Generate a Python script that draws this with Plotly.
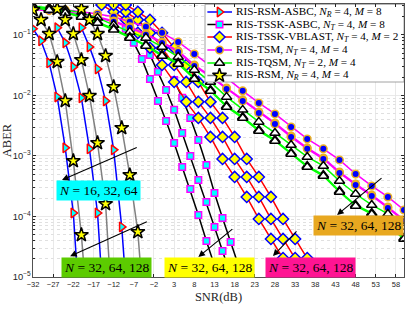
import math
import plotly.graph_objects as go

# ---------------- data ----------------
# RIS-RSM-ASBC (N = 16, 32, 64)
snr_rsm_asbc_1 = [-32, -30, -28, -26, -24, -22, -20]
aber_rsm_asbc_1 = [0.126, 0.0796, 0.0345, 9.45e-3, 1.36e-3, 1.14e-4, 1e-6]
snr_rsm_asbc_2 = [-26, -24, -22, -20, -18, -16, -14]
aber_rsm_asbc_2 = [0.131, 0.0738, 0.0296, 9.11e-3, 1.31e-3, 1.14e-4, 1e-6]
snr_rsm_asbc_3 = [-20, -18, -16, -14, -12, -10, -8]
aber_rsm_asbc_3 = [0.131, 0.0633, 0.0274, 8.12e-3, 1.26e-3, 6.72e-5, 1e-6]

# RIS-RSM (N = 32, 64, 128)
snr_rsm_1 = [-32, -30, -28, -26, -24, -22, -20, -18]
aber_rsm_1 = [0.259, 0.177, 0.104, 0.0358, 8.12e-3, 8.27e-4, 4.95e-5, 1e-6]
snr_rsm_2 = [-26, -24, -22, -20, -18, -16, -14, -12]
aber_rsm_2 = [0.269, 0.177, 0.104, 0.0386, 9.83e-3, 1.64e-3, 1.61e-4, 1e-6]
snr_rsm_3 = [-20, -18, -16, -14, -12, -10, -8, -6, -4]
aber_rsm_3 = [0.269, 0.177, 0.104, 0.0450, 0.0138, 2.90e-3, 4.85e-4, 5.55e-5, 1e-6]

# RIS-TSSK-ASBC (N = 32, 64, 128)
snr_tssk_asbc_1 = [-9, -7, -5, -3, -1, 1, 3, 5, 7, 9, 11, 13, 15]
aber_tssk_asbc_1 = [0.126, 0.0738, 0.0401, 0.0187, 8.12e-3, 3.79e-3, 1.64e-3,
                    6.58e-4, 2.85e-4, 1.06e-4, 3.94e-5, 1.58e-5, 6.1e-6]
snr_tssk_asbc_2 = [-3, -1, 1, 3, 5, 7, 9, 11, 13, 15, 17, 19]
aber_tssk_asbc_2 = [0.0467, 0.0245, 0.0123, 5.77e-3, 2.40e-3, 1.0e-3, 4.01e-4,
                    1.74e-4, 6.72e-5, 2.69e-5, 1.08e-5, 4.2e-6]
snr_tssk_asbc_3 = [3, 5, 7, 9, 11, 13, 15, 17, 19, 21]
aber_tssk_asbc_3 = [0.0180, 9.11e-3, 4.25e-3, 1.84e-3, 7.10e-4, 2.45e-4,
                    9.45e-5, 3.79e-5, 1.52e-5, 6.1e-6]

# RIS-TSSK-VBLAST (N = 32, 64, 128)
snr_vblast_1 = [-15, -12, -9, -6, -3, 0, 3, 6, 9, 12, 15, 18, 21, 24, 27, 30, 33, 36]
snr_vblast_2 = [-12, -9, -6, -3, 0, 3, 6, 9, 12, 15, 18, 21, 24, 27, 30, 33, 36, 39]
snr_vblast_3 = [-9, -6, -3, 0, 3, 6, 9, 12, 15, 18, 21, 24, 27, 30, 33, 36, 39, 42]
aber_vblast_1 = [0.313, 0.240, 0.177, 0.108, 0.0610, 0.0319, 0.0167, 7.82e-3, 4.25e-3,
                 2.06e-3, 8.92e-4, 4.50e-4, 2.10e-4, 9.11e-5, 4.25e-5, 2.06e-5, 9.63e-6, 4.5e-6]
aber_vblast_2 = [0.313, 0.240, 0.177, 0.108, 0.0610, 0.0319, 0.0167, 7.82e-3, 4.25e-3,
                 2.06e-3, 8.92e-4, 4.50e-4, 2.10e-4, 9.11e-5, 4.25e-5, 2.06e-5, 9.63e-6, 4.5e-6]
aber_vblast_3 = [0.313, 0.240, 0.177, 0.108, 0.0610, 0.0319, 0.0167, 7.82e-3, 4.25e-3,
                 2.06e-3, 8.92e-4, 4.50e-4, 2.10e-4, 9.11e-5, 4.25e-5, 2.06e-5, 9.63e-6, 4.5e-6]

# RIS-TSM and RIS-TQSM (N = 32, 64, 128)
snr_right = [-32, -28, -24, -20, -16, -12, -8, -4, 0, 4, 8, 12, 16, 20, 24, 28,
             32, 36, 40, 44, 48, 52, 56, 60]
aber_tsm_1 = [0.279, 0.269, 0.259, 0.240, 0.222, 0.199, 0.164, 0.136, 0.108, 0.0766,
              0.0485, 0.0307, 0.0195, 0.0119, 7.52e-3, 4.95e-3, 3.02e-3, 1.91e-3,
              1.31e-3, 8.59e-4, 5.04e-4, 3.19e-4, 2.10e-4, 1.28e-4]
aber_tsm_2 = [0.269, 0.259, 0.240, 0.222, 0.199, 0.170, 0.136, 0.104, 0.0766, 0.0544,
              0.0319, 0.0210, 0.0133, 8.44e-3, 5.34e-3, 3.51e-3, 2.14e-3, 1.36e-3,
              9.27e-4, 5.44e-4, 3.45e-4, 2.27e-4, 1.44e-4, 8.75e-5]
aber_tsm_3 = [0.262, 0.251, 0.232, 0.214, 0.192, 0.164, 0.131, 0.100, 0.0736, 0.0522,
              0.0306, 0.0202, 0.0128, 8.10e-3, 5.13e-3, 3.37e-3, 2.05e-3, 1.31e-3,
              8.9e-4, 5.22e-4, 3.31e-4, 2.18e-4, 1.38e-4, 8.4e-5]
aber_tqsm_1 = [0.301, 0.279, 0.259, 0.231, 0.191, 0.146, 0.112, 0.0892, 0.0633, 0.0433,
               0.0264, 0.0167, 9.45e-3, 5.77e-3, 3.65e-3, 2.40e-3, 1.52e-3, 9.63e-4,
               6.84e-4, 3.86e-4, 2.35e-4, 1.55e-4, 1.10e-4, 6.72e-5]
aber_tqsm_2 = [0.291, 0.269, 0.240, 0.206, 0.164, 0.126, 0.0927, 0.0684, 0.0467, 0.0345,
               0.0195, 0.0123, 6.72e-3, 4.41e-3, 2.69e-3, 1.84e-3, 1.12e-3, 6.84e-4,
               4.85e-4, 2.64e-4, 1.55e-4, 1.14e-4, 7.52e-5, 4.41e-5]
aber_tqsm_3 = [0.280, 0.258, 0.230, 0.198, 0.157, 0.121, 0.089, 0.0657, 0.0448, 0.0331,
               0.0187, 0.0118, 6.45e-3, 4.23e-3, 2.58e-3, 1.77e-3, 1.08e-3, 6.57e-4,
               4.66e-4, 2.53e-4, 1.49e-4, 1.09e-4, 7.2e-5, 4.23e-5]

x_ticks = [-32, -27, -22, -17, -12, -7, -2, 3, 8, 13, 18, 23, 28, 33, 38, 43, 48, 53, 58]

legend_keys = ["rsm_asbc", "tssk_asbc", "vblast", "tsm", "tqsm", "rsm"]
legend_names = {
    "rsm_asbc": "RIS-RSM-ASBC, <i>N<sub>R</sub></i> = 4, <i>M</i> = 8",
    "tssk_asbc": "RIS-TSSK-ASBC, <i>N<sub>T</sub></i> = 4, <i>M</i> = 8",
    "vblast": "RIS-TSSK-VBLAST, <i>N<sub>T</sub></i> = 4, <i>M</i> = 2",
    "tsm": "RIS-TSM, <i>N<sub>T</sub></i> = 4, <i>M</i> = 4",
    "tqsm": "RIS-TQSM, <i>N<sub>T</sub></i> = 2, <i>M</i> = 4",
    "rsm": "RIS-RSM, <i>N<sub>R</sub></i> = 4, <i>M</i> = 4",
}

label_text = ["<i>N</i> = 16, 32, 64", "<i>N</i> = 32, 64, 128"]

# ---------------- styles ----------------
styles = {
    "rsm_asbc": dict(line="#0000FF", symbol="triangle-right", size=8.5, fill="#00FFFF", edge="#FF0000"),
    "tssk_asbc": dict(line="#000000", symbol="square", size=6.5, fill="#00FFFF", edge="#FF00FF"),
    "vblast": dict(line="#FF0000", symbol="diamond", size=8.5, fill="#FFFF00", edge="#0000FF"),
    "tsm": dict(line="#FF00FF", symbol="circle", size=7.5, fill="#0000FF", edge="#EDB120"),
    "tqsm": dict(line="#00FF00", symbol="triangle-up", size=9, fill="#FFFFFF", edge="#000000"),
    "rsm": dict(line="#808080", symbol="star", size=10.5, fill="#FFFF00", edge="#000000"),
}

series = [
    ("rsm_asbc", snr_rsm_asbc_1, aber_rsm_asbc_1),
    ("rsm_asbc", snr_rsm_asbc_2, aber_rsm_asbc_2),
    ("rsm_asbc", snr_rsm_asbc_3, aber_rsm_asbc_3),
    ("tssk_asbc", snr_tssk_asbc_1, aber_tssk_asbc_1),
    ("tssk_asbc", snr_tssk_asbc_2, aber_tssk_asbc_2),
    ("tssk_asbc", snr_tssk_asbc_3, aber_tssk_asbc_3),
    ("vblast", snr_vblast_1, aber_vblast_1),
    ("vblast", snr_vblast_2, aber_vblast_2),
    ("vblast", snr_vblast_3, aber_vblast_3),
    ("tsm", snr_right, aber_tsm_1),
    ("tsm", snr_right, aber_tsm_2),
    ("tsm", snr_right, aber_tsm_3),
    ("tqsm", snr_right, aber_tqsm_1),
    ("tqsm", snr_right, aber_tqsm_2),
    ("tqsm", snr_right, aber_tqsm_3),
    ("rsm", snr_rsm_1, aber_rsm_1),
    ("rsm", snr_rsm_2, aber_rsm_2),
    ("rsm", snr_rsm_3, aber_rsm_3),
]

fig = go.Figure()
for key, xs, ys in series:
    st = styles[key]
    fig.add_trace(go.Scatter(
        x=xs, y=ys, mode="lines+markers", name=key, showlegend=False, hoverinfo="skip",
        line=dict(color=st["line"], width=1.5),
        marker=dict(symbol=st["symbol"], size=st["size"], color=st["fill"],
                    line=dict(color=st["edge"], width=1.5)),
    ))

serif = "Liberation Serif"

# ---------------- custom compact legend (overlay axes in [0,1]) ----------------
LG_X0, LG_X1, LG_Y0, LG_Y1 = 0.4636, 1.0, 0.7143, 0.999
LG_ROWS = [0.9707, 0.9249, 0.8791, 0.8315, 0.7839, 0.7381]
LG_LINE_X = [0.470, 0.5027, 0.5364]
LG_TEXT_X = 0.5430

fig.add_trace(go.Scatter(
    x=[LG_X0, LG_X1, LG_X1, LG_X0, LG_X0], y=[LG_Y0, LG_Y0, LG_Y1, LG_Y1, LG_Y0],
    xaxis="x2", yaxis="y2", mode="lines", fill="toself", fillcolor="#FFFFFF",
    line=dict(color="#8C8C8C", width=0.8), showlegend=False, hoverinfo="skip",
    cliponaxis=False))
for key, ry in zip(legend_keys, LG_ROWS):
    st = styles[key]
    fig.add_trace(go.Scatter(
        x=LG_LINE_X, y=[ry, ry, ry], xaxis="x2", yaxis="y2", mode="lines+markers",
        showlegend=False, hoverinfo="skip",
        line=dict(color=st["line"], width=1.5),
        marker=dict(symbol=st["symbol"], size=st["size"], color=st["fill"],
                    opacity=[0, 1, 0], line=dict(color=st["edge"], width=1.5))))
    fig.add_annotation(x=LG_TEXT_X, y=ry, xref="paper", yref="paper", xanchor="left",
                       yanchor="middle", text=legend_names[key], showarrow=False,
                       font=dict(family=serif, size=11.2, color="#000000"))

# ---------------- label boxes ----------------
boxes = [
    (label_text[0], -15.7, 10 ** (-3.578), "#00FFFF"),
    (label_text[1], -13.8, 10 ** (-4.843), "#5CCB00"),
    (label_text[1], 11.7, 10 ** (-4.851), "#FFFF00"),
    (label_text[1], 36.9, 10 ** (-4.851), "#FF1493"),
    (label_text[1], 48.6, 10 ** (-4.157), "#E8A820"),
]
for txt, bx, by, col in boxes:
    fig.add_annotation(x=bx, y=math.log10(by), xref="x", yref="y", text=txt,
                       showarrow=False, bgcolor=col, borderpad=2,
                       font=dict(family=serif, size=13.5, color="#000000"))

# arrows (head, tail)
arrows = [
    ((-24.8, 4.0e-4), (-5.9, 1.41e-3)),
    ((-22.8, 2.2e-5), (-3.4, 8.4e-5)),
    ((9.0, 2.14e-5), (17.8, 6.46e-5)),
    ((27.5, 2.22e-5), (33.7, 5.98e-5)),
    ((43.4, 1.06e-4), (54.8, 4.5e-4)),
]
for (hx, hy), (tx, ty) in arrows:
    fig.add_annotation(x=hx, y=math.log10(hy), ax=tx, ay=math.log10(ty),
                       xref="x", yref="y", axref="x", ayref="y", text="",
                       showarrow=True, arrowhead=2, arrowsize=1.2, arrowwidth=1.1,
                       arrowcolor="#000000")

fig.update_layout(
    width=415, height=312, autosize=False,
    margin=dict(l=33, r=11, t=4, b=35),
    paper_bgcolor="#FFFFFF", plot_bgcolor="#FFFFFF",
    showlegend=False, hovermode=False,
    xaxis=dict(range=[-32, 60], tickmode="array", tickvals=x_ticks, automargin=False,
               ticks="inside", ticklen=3, tickcolor="#262626",
               showgrid=True, gridcolor="#E3E3E3", gridwidth=0.8, zeroline=False,
               showline=True, linecolor="#262626", linewidth=0.8, mirror="ticks",
               tickfont=dict(family="Liberation Sans", size=7.5, color="#262626"),
               title=dict(text="SNR(dB)", font=dict(family=serif, size=12.5, color="#262626"),
                          standoff=4)),
    yaxis=dict(type="log", range=[-5, -0.49], dtick=1, exponentformat="power", automargin=False,
               ticks="inside", ticklen=3, tickcolor="#262626",
               showgrid=True, gridcolor="#E3E3E3", gridwidth=0.8, zeroline=False,
               showline=True, linecolor="#262626", linewidth=0.8, mirror="ticks",
               minor=dict(showgrid=True, griddash="dot", gridcolor="#D8D8D8",
                          ticks="inside", ticklen=2, tickcolor="#262626"),
               tickfont=dict(family="Liberation Sans", size=7.5, color="#262626"),
               title=dict(text="ABER", font=dict(family=serif, size=12.5, color="#262626"),
                          standoff=2)),
    xaxis2=dict(overlaying="x", range=[0, 1], visible=False, fixedrange=True),
    yaxis2=dict(overlaying="y", range=[0, 1], visible=False, fixedrange=True),
)

fig.write_html("out.html", config={"displayModeBar": False, "staticPlot": True},
               post_script="document.body.style.margin='0';document.body.style.padding='0';")
